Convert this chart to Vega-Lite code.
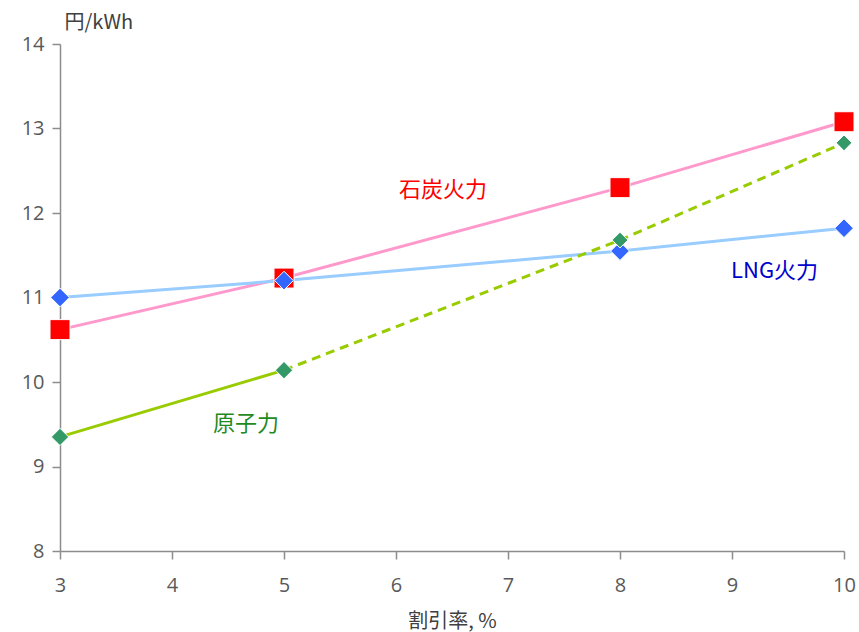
{
  "$schema": "https://vega.github.io/schema/vega-lite/v6.json",
  "width": 784,
  "height": 507,
  "autosize": {"type": "none"},
  "padding": {"left": 60, "top": 44, "right": 15, "bottom": 81},
  "background": "white",
  "config": {
    "view": {"stroke": null},
    "font": "Open Sans",
    "axis": {
      "grid": false,
      "domainColor": "#8c8c8c",
      "tickColor": "#8c8c8c",
      "domainWidth": 1.5,
      "tickWidth": 1.5,
      "tickSize": 8,
      "labelColor": "#595959",
      "labelFontSize": 20,
      "labelFont": "Open Sans",
      "labelFlush": false,
      "titleFont": "Noto Sans CJK JP",
      "titleFontWeight": "normal",
      "titleColor": "#404040",
      "titleFontSize": 20
    }
  },
  "resolve": {"scale": {"color": "independent"}},
  "datasets": {
    "costs": [
      {"rate": 3, "cost": 10.62, "source": "石炭火力", "seg": "coal"},
      {"rate": 5, "cost": 11.23, "source": "石炭火力", "seg": "coal"},
      {"rate": 8, "cost": 12.30, "source": "石炭火力", "seg": "coal"},
      {"rate": 10, "cost": 13.08, "source": "石炭火力", "seg": "coal"},
      {"rate": 3, "cost": 11.00, "source": "LNG火力", "seg": "lng"},
      {"rate": 5, "cost": 11.20, "source": "LNG火力", "seg": "lng"},
      {"rate": 8, "cost": 11.55, "source": "LNG火力", "seg": "lng"},
      {"rate": 10, "cost": 11.82, "source": "LNG火力", "seg": "lng"},
      {"rate": 3, "cost": 9.35, "source": "原子力", "seg": "nuclear_solid"},
      {"rate": 5, "cost": 10.14, "source": "原子力", "seg": "nuclear_solid"},
      {"rate": 5, "cost": 10.14, "source": "原子力", "seg": "nuclear_dashed"},
      {"rate": 8, "cost": 11.68, "source": "原子力", "seg": "nuclear_dashed"},
      {"rate": 10, "cost": 12.83, "source": "原子力", "seg": "nuclear_dashed"}
    ],
    "labels": [
      {"rate": 6.42, "cost": 12.27, "source": "石炭火力"},
      {"rate": 9.38, "cost": 11.31, "source": "LNG火力"},
      {"rate": 4.66, "cost": 9.50, "source": "原子力"}
    ]
  },
  "encoding": {
    "x": {
      "field": "rate",
      "type": "quantitative",
      "scale": {"domain": [3, 10], "nice": false, "zero": false},
      "axis": {
        "title": "割引率, %",
        "values": [3, 4, 5, 6, 7, 8, 9, 10],
        "labelPadding": 16,
        "titlePadding": 16
      }
    },
    "y": {
      "field": "cost",
      "type": "quantitative",
      "scale": {"domain": [8, 14], "nice": false, "zero": false},
      "axis": {
        "title": "円/kWh",
        "values": [8, 9, 10, 11, 12, 13, 14],
        "labelPadding": 8,
        "titleAngle": 0,
        "titleAlign": "left",
        "titleBaseline": "middle",
        "titleX": 4,
        "titleY": -22
      }
    }
  },
  "layer": [
    {
      "data": {"name": "costs"},
      "transform": [{"filter": "datum.seg !== 'nuclear_dashed'"}],
      "mark": {"type": "line", "strokeWidth": 3},
      "encoding": {
        "detail": {"field": "seg"},
        "stroke": {
          "field": "seg",
          "type": "nominal",
          "scale": {"domain": ["coal", "lng", "nuclear_solid"], "range": ["#ff99cc", "#99ccff", "#99cc00"]},
          "legend": null
        }
      }
    },
    {
      "data": {"name": "costs"},
      "transform": [{"filter": "datum.seg === 'nuclear_dashed'"}],
      "mark": {"type": "line", "strokeWidth": 3, "strokeDash": [9, 6], "stroke": "#99cc00"},
      "encoding": {}
    },
    {
      "data": {"name": "costs"},
      "transform": [{"filter": "datum.seg !== 'nuclear_dashed'"}],
      "mark": {"type": "point", "filled": true, "opacity": 1, "stroke": "white", "strokeWidth": 1},
      "encoding": {
        "shape": {
          "field": "source",
          "type": "nominal",
          "scale": {"domain": ["石炭火力", "LNG火力", "原子力"], "range": ["square", "diamond", "diamond"]},
          "legend": null
        },
        "size": {
          "field": "source",
          "type": "nominal",
          "scale": {"domain": ["石炭火力", "LNG火力", "原子力"], "range": [400, 300, 250]},
          "legend": null
        },
        "fill": {
          "field": "source",
          "type": "nominal",
          "scale": {"domain": ["石炭火力", "LNG火力", "原子力"], "range": ["#ff0000", "#3366ff", "#339966"]},
          "legend": null
        }
      }
    },
    {
      "data": {"name": "costs"},
      "transform": [{"filter": "datum.seg === 'nuclear_dashed' && datum.rate > 5"}],
      "mark": {"type": "point", "shape": "diamond", "filled": true, "opacity": 1, "size": 250, "fill": "#339966", "stroke": "white", "strokeWidth": 1}
    },
    {
      "data": {"name": "labels"},
      "mark": {"type": "text", "font": "Noto Sans CJK JP", "fontSize": 22, "align": "center", "baseline": "middle"},
      "encoding": {
        "text": {"field": "source"},
        "color": {
          "field": "source",
          "type": "nominal",
          "scale": {"domain": ["石炭火力", "LNG火力", "原子力"], "range": ["#ff0000", "#0000cc", "#1f8a1f"]},
          "legend": null
        }
      }
    }
  ]
}
